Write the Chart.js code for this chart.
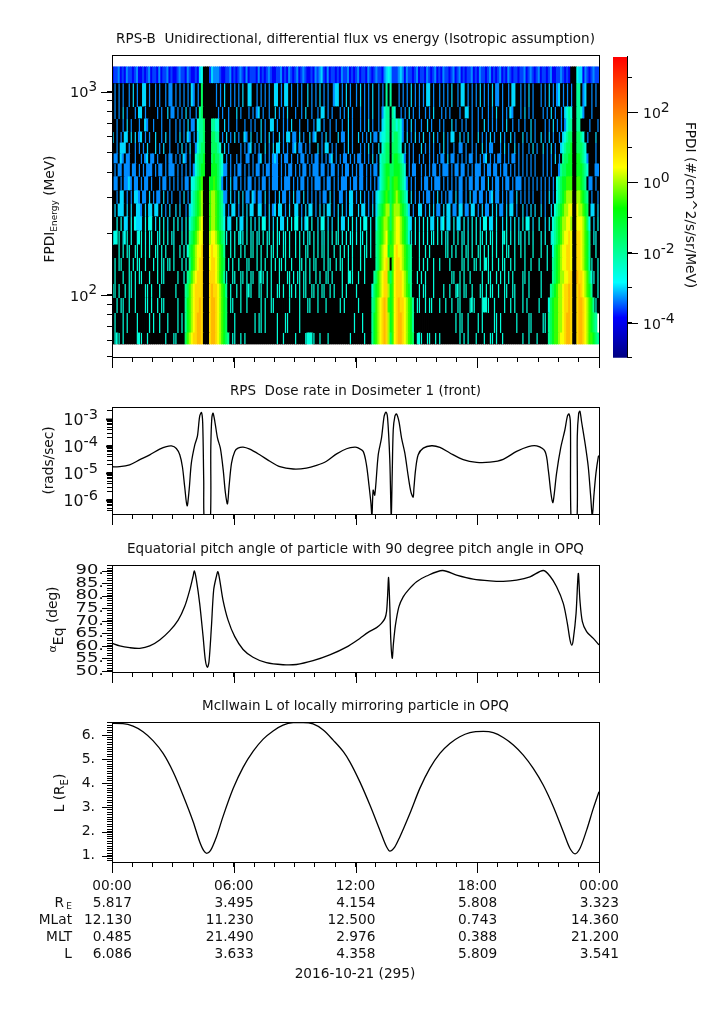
<!DOCTYPE html>
<html>
<head>
<meta charset="utf-8">
<title>RPS-B 2016-10-21</title>
<script src="https://cdn.jsdelivr.net/npm/chart.js@4/dist/chart.umd.min.js"></script>
<style>
body { margin: 0; background: #fff; }
canvas { position: absolute; left: 0; }
</style>
</head>
<body>
<canvas id="heat" width="725" height="336" style="top:33px"></canvas>
<canvas id="bar" width="125" height="323" style="top:45px;left:600px"></canvas>
<canvas id="dose" width="725" height="141" style="top:385px"></canvas>
<canvas id="pitch" width="725" height="141" style="top:543px"></canvas>
<canvas id="lshell" width="725" height="290" style="top:700px"></canvas>
<script>
// energy channel edges in MeV, bottom to top
var energyEdges = [57.4,65,81.5,96.7,113,131,152,176,206,242,280,325,381,441,494,559,633,734,841,1095,1323];
var energyTicks = [50,60,70,80,90,100,200,300,400,500,600,700,800,900,1000];

// one letter per 0.1 h per channel, '.' is no counts. Letters index fluxLevels (log10 flux)
var levelChars = 'abcdefghijklmno';
var fluxLevels = [-3.9,-3.6,-3.3,-3.0,-2.7,-2.55,-2.0,-1.5,-1.0,-0.5,0,0.4,0.9,1.3,1.5];

// stripes of each channel, row 0 = lowest energy
var channelRows = [
".fff.f.... ..fff..f.. ......f... ff........ .......... .........f f..f.f.... .......... .f..f..... f....fffff ..f...f... .......f.. ....f..... .......... .......... fff..ff..f .f........ .f.f.f...f ...f..ff.f ..f....... ..f..f...f .......... .......... ..........",
".f...f.f.. ..f.....f. f..f...f.. ..f.f..... .......... f......... f......... f.ff.f.... .f...ff... ..f....... .......... .........f ...f.....f ..f..f.... .......... .......... .........f .ff..f.. ..f.f..... ff.f...... .f.....ff. ....ff.... .......... ....f.....",
"..f.ff..f. .f....ff.f ..f.ff.... ..f....... .......... ...f..f.ff ...f..f... ...f.f..ff .......f.. ..f...ff.. .f...f.... ..f.f..... .f........ .......... .......... ff..f.ff.. .f..f..f.. ff....fff. ..ffff..f. ...f..f.f. ..f.f..... f......... .......... ..f...f.f.",
"ff.f..f.ff .f....ff.f ...f...... .f........ .......... ..f.ff..f. .f.f..fff. ..ff..f.f. .ff.f..ff. f.f.ff..ff .f.ff..f.f ...f.f.... f......... .......... .......... .f.ff...f. ...f..f..f ff.ff..f.. .ff.f.ff.. f..ff..ff. ..f..f.... .f........ .......... .f....f..f",
".f...f..ff .f.ff...f. ..f.ff.... ..f..f.... .......... ..f.f.f..f f..ff.f.ff ..fff.f.f. ..f...ff.f .ff.ff.f.. f.f..ff.f. ...f..fff. .f..f..... .......... .......... f.f.f...f. .......ff. .f.f..f... ..f..ff..f .f.f.f.f.. ..ff.f.... .f........ .......... ....f.ff.f",
".f.ff...f. f.ff..f... f.f.ff.ff. f...f.f... .......... ..f.f..f.f ..f...ff.. .f.f.f..f. f.ff.f..f. ..ff.f.f.f f...f.ff.. f.ff..f.f. ..f.f..... .......... .......... .f.f.f..f. .f....f... ..ff.f..ff .f.fff.f.. f.ff..f.f. ...f..f... f...f..... .......... ..f...f..f",
"...f.f.ff. .ff.f.f.f. .ff.f.f... f..f.f.... .......... ...f.f..f. f..f.f..ff .f.f..f.ff .f..ff.f.. f.f..ff..f .f.ff.f..f ..f.f.f.f. ..f.ff.f.. .......... .......... .f..f.f... ....ff.f.f ..f.ff.f.. ff.f.f.f.f ..f.ff..f. .f.f...f.. .f..f..... .......... .f..f...f.",
"eeff.eef.e ..eff.e.ef ..ee.f.e.e e...f.e.e. .......... .e.f.ee.e. f.eee.f.ef .ee.f.ef.e .fe.ee.f.. e.f.e.ee.f .e.ee.f.e. ff.e.e.ee. e.ee.f.e.. .......... .......e.e .e.e.e.ee. f.e.ee..e. f.ee.e.e.e .fe.e.ef.e ..eff.e.e. ee.e.f.e.. .e.e..e... .......... ..e.e..ee.",
"..e.e.dd.e .eddd.e.ee .d.e.e.d.. e.e.d.e... .......... .e.d.e.dd. .e.dd.e.e. d.e.ee.d.d .e.dd.e.e. ee.d.de.e. .d.ee.d.d. .e.dd.e.e. d.e.ee.e.. .......... .......d.e .d.e.e.dd. e.de.dd.e. dd.e.d.e.e .d.ee.dd.e ..d.e.d.e. d.e.ee.d.. e..d.e.... .......... ..dd.e.d.e",
".d.ddd.d.d ..ddc.d.dd .dd.d.c.d. .d.d..c.d. .......... ..d.dd.c.d d.c.d.d.dd ..dd.c.d.c d.dd.c.d.. dd.c.d.dd. c.d.d.dd.c .d.d.c.dd. .d.dd.c.d. d......... ......d.c. .dd.c.d.d. cc.d.dd.cc .dd.cc.dd. c.d.cc.d.d .cc.d.dd.c ..d.c.d.d. .d.c..d.c. d......... ..d.c.dd.d",
"..c.dd.c.c .ddc.cc.d. c.cc.d.c.c ...c.d.c.c .......... .c.d.cc.d. c.d.d.cc.d c.cc.d.c.. c.d.cc.c.d .cc.d.c.c. c.c.cc.d.c ..cc.c.dd. c.d.c.c.c. d.c....... .....c.d.c .c.c.cc.c. d.c.c.cc.d .cc.c.d.cc .cc.c.cd.c c.c.c.cc.d .c.c.c.c.. .c.c.d.c.. c......... .c.d..c..c",
".cc.c.ccdc .cc.c.cc.c ...c.cc.c. c.c.c.cc.c .......... .c.cc.c.d. cc.c.c.cc. c.c.cc.c.c cc.c.ccc.c .c.cc.c.c. ccc.c.cc.c .c.ccc.c.c c.cc.c.c.c .c.c...... .....c.c.c ..c.cc.c.c cc.c.c.c.c .cc.c.cc.c c.cc.d.c.c c.c.cc.c.c cc.c.c.c.c .c.c.c.c.. c.c....... .c...cc.c.",
".c.cc.ccc. cc.c.c.ccc .c.cc.c.cc c.c.c.c.c. c......... .c.c.cc.c. c.cc.c.c.c .cc.c.cc.c cc.c.c.cc. c.c.cc.c.c cc.cc.c.cc .c.c.cc.c. c.cc.c.c.c c.c....... ....c.c.cc ..c.c.c.cc .c.ccc.c.c c.cc.c.c.c cc.c.cc.cc .c.cc.c.c. c.c.c.c.c. ..c.c.c... c.c..c.... ..c.c...cc",
".cc.dc.cc. .c..c.cd.c c.c...c.cc .c.c.dc.c. .......... .c.dc.c.c. .c.c..cc.c ..cd.c.c.c dc.c.cc.c. .c.cc.c.c. cc.c.c.cd. c.c.cc.c.c .cc.c.c.d. c.c.c..... ....c.c.c. .c.c..c.c. c.cc.d.cc. c.c.c.cc.c .c.cd.c.c. cc.c.c.cc. c.c.c.c.c. ..c.c.c.d. c.c.c.c... .c..c...c.",
"..c.ddd.c. .c.c.c.d.. .d.c.d..c. ..c.d.c.d. .c........ .c.c.d.c.. ...c.c.cd. c.c..d.c.d .dd.c.c..c d.cc.c.c.. .d.c.dd.c. c...c.d.c. ..c.c.d.c. .d.c.c.... ....d.c.c. ..d.c.c.c. .c.d.c..c. .cc.c..c.c ..d.c.cc.. .c.d.c..d. c.c..c.d.c ..d.c.d.c. .d.c.c.... ...c....c.",
"d.c.c.dd.d .d.cd.c.c. .d..c.d.c. .c.d.c.dc. c.d....... ..d.c.d.c. d.c..dc.d. .c.d.c.d.c ..d.c.dd.c c.d.c..d.c d..c.d.c.. .d.cc.d.c. .d.c.c.d.c c.d....... ...c.d.c.d .c.d..c.d. c..d.c.dd. .d.c.d.c.. d.c.c.d.c. .d.c..d.c. ..d.c.d.c. .d.c.d.c.. c.d.c..... ....c...d.",
"..c..c.d.c ...c..dc.. c...c...c. .c.c.c.d.c c.d....... ..c..d.c.. .c...c..c. c..d.c..dd .c..c.c.d. ..c...c..c .dd.c..c.. c..c..d.c. ..c.c.d.c. .c.d.c.... ...c.c.d.c ..c..d.c.. .c.c...d.c ..c.c..c.. c..d.c.c.c ..c.d..c.. c..c..d.c. ...c.c.d.c .c.c...... .....c...c",
".c.c.d.c.. .c.dd.c... ..c.c..d.c c.c.c.d.c. .c.d.c.... ..c.c..c.. .d.c...c.c .cd.c..c.. d.c.c.d... c..c.d..c. .c.dd.c.c. ..c.c.d.c. ..c.c.c.d. .c.c.d.c.. ..c.c.d.c. .c..c.c.d. ..c.c.c... .c..dd.c.. c.c..c.c.d ..c.c.dc.. .c.d.c.c.. ..c.c.d.c. .c.d.c.c.c ..c...c...",
".c.c.c..c. d.c..dd.c. .c.c..c.cc .c.c.c.c.d c.c.d.c... .c.c.d..c. c.c.d..dd. .c.c.c.c.. dd.c.dd.c. .c.c..d.c. c.d.c.c..c dd.c.d.c.. c.d.c.c.d. .c.c...... .c.c.c.d.c .c.c.dd.c. .c.c.c.d.. c.dd.c.c.c .d.c.c.d.c c.c..c.dd. .c.c.d.c.. .c.c.d.c.c d.c.c.c... ..cd..c.c.",
"abbcabacbb abcaababca bbacabbcab aabcbbacba abacbbbacb abcbaabbca babcbacabb bacababcba abbcabacba bcabcbaaba cbcdbacabb abacbbcaba bcabbacbab cbbacbdcab bcabacbbab cabbacbabc abacbbabca bcababbcab acbbabcaba bcabacbabb abbcabcbab cabbabcaab bcbabacbbb abacbabcbb"
];

// radiation belt passes: first column and cells, per channel
var pass1Start = [36,36,36,36,37,38,37,38,38,39,39,39,41,41,42,43,42,43,44,43];
var pass1Cells = ["hjklmmnnm...mnnmlkjihg","gijklmnnm...mnnmlkjih","gijklmmnm...mnnmlkjih","ghjklmmmm...mnmmlkjig","ghjklmmm...mmmlkjig","gijklmm...lmmlkjih","fhijkllm...lmllkjig","ghijkll...kllkjihg","fghijkl...jkkjihg","fghijk...jkkjihg","fghijk...jkkjihg","efghij...iijihg","fghii...iiihgf","fghhi...hihhgf","fghh...hhhgf","ggh...hhgg","fggh...ggff","gh....","h...","de...bdcc"];
var pass2Start = [128,128,128,128,129,130,130,130,130,131,131,132,132,132,133,133,134,134,135,135];
var pass2Cells = ["gijklmnmkhjlmnnmlkjih","gijklmnmkijlmnnmlkjig","ghjklmnmjijlmnmmlkjig","fhijklmmkijlmmmlkjig","ghjklmmjhjlmmmlkjhg","ghjklmk.jlmmlkjihg","ghjkllijjlmllkjihg","ghijkljijkllkjihf","fhijkkjhjkllkjihf","ghijkkhjkkkjihg","fghijihijkjihgf","fghijhijjihgf","fghiihhiiihgf","fgghh.hiihgf","fghh.hhhgf","ffgg.ghhgf","fgg.ggfgf","fgg.gf..","g.g.","dedbbbcdc"];
var pass3Start = [215,215,215,216,217,217,217,217,217,218,219,219,221,222,222,223,224,224,227,226];
var pass3Cells = ["ghijjkllmnnm..mnnmlkjjihg","ghijjkklmnnm..mnnmlkjihg","fhijjkklmmnm..mnnmlkjig","ghijkklmmnm..mnmlkjig","ghijkkllmm..nmmlkjh","ghijkllmml..mmlkjig","fhijkllmml..mmlkjig","fghijkllml..mmlkjig","fghijkkllk..lllkjh","fghijkkll..lkkjih","fghijkkk..kkjihg","fghiijjj..jjihg","ghhiii..iiihgf","ghhii..iihgf","fghhi..hhhgf","fghh..hhgf","fgg..gg","fgf..ggf","..gg","...edd"];

// colour bar: log10 flux and its colour
var fluxStops = [-5,-3.85,-2.85,-0.74,0.43,3.57];
var fluxColours = [[0,0,128],[0,0,255],[0,255,255],[0,255,0],[255,255,0],[255,0,0]];
var barTicks = [1e-5,1e-4,1e-3,1e-2,1e-1,1,10,100,1000];
var barLabels = [-4,-2,0,2];

var doseHours = [0,.38,.87,1.37,1.86,2.35,2.68,2.93,3.17,3.34,3.47,3.58,3.70,3.80,3.91,4.08,4.21,4.32,4.41,4.47,4.52,4.57,4.83,4.87,4.92,4.98,5.08,5.20,5.34,5.48,5.59,5.69,5.77,5.89,6.05,6.21,6.46,6.79,7.28,7.78,8.27,8.93,9.58,10.08,10.57,11.07,11.56,11.97,12.13,12.38,12.54,12.67,12.76,12.81,12.87,12.95,13.12,13.28,13.41,13.5,13.58,13.69,13.76,13.81,13.86,13.94,14.02,14.14,14.27,14.43,14.6,14.73,14.84,14.88,14.96,15.09,15.34,15.75,16.16,16.65,17.31,17.97,18.63,19.28,19.94,20.52,20.93,21.34,21.5,21.63,21.72,21.78,21.91,22.11,22.32,22.44,22.52,22.59,22.64,22.9,22.93,23.0,23.06,23.14,23.31,23.47,23.59,23.67,23.75,23.85,23.97,24];
var doseValues = [1.7e-5,1.7e-5,2.0e-5,3.1e-5,4.7e-5,7.6e-5,9.5e-5,1.0e-4,8.1e-5,4.7e-5,1.7e-5,3.2e-6,6.0e-7,2.3e-6,2.3e-5,1.1e-4,2.3e-4,1.26e-3,1.74e-3,7.1e-4,5.5e-6,1e-7,1e-7,9.5e-5,1.1e-3,1.66e-3,7.1e-4,1.95e-4,8.3e-5,1.3e-5,1.8e-6,7.1e-7,3.2e-6,2.3e-5,6.3e-5,8.3e-5,9.1e-5,7.6e-5,4.7e-5,2.7e-5,1.7e-5,1.4e-5,1.5e-5,1.9e-5,2.7e-5,5.1e-5,7.9e-5,9.1e-5,8.5e-5,6.3e-5,2.0e-5,3.2e-6,7.6e-7,2.5e-7,2.3e-6,1.5e-6,4.7e-5,1.95e-4,1.26e-3,1.8e-3,1.1e-3,3.1e-5,2.5e-7,9.8e-6,4e-4,1.26e-3,1.55e-3,8.1e-4,1.95e-4,5.5e-5,7.4e-6,2e-6,1.26e-6,2.75e-6,1.3e-5,4.7e-5,8.3e-5,1.02e-4,8.9e-5,5.5e-5,3.1e-5,2.45e-5,2.5e-5,3.2e-5,6.3e-5,9.5e-5,1e-4,6.3e-5,1.3e-5,1.8e-6,7.9e-7,1.35e-6,9.8e-6,8.3e-5,4e-4,1.26e-3,1.55e-3,7.1e-4,1e-7,1e-7,2.3e-4,1.66e-3,1.95e-3,8.1e-4,1.3e-4,1.7e-5,1.35e-6,2.5e-7,1.5e-6,9.8e-6,4.1e-5,4.4e-5];
var doseTicks = [4e-7,5e-7,6e-7,7e-7,8e-7,9e-7,1e-6,2e-6,3e-6,4e-6,5e-6,6e-6,7e-6,8e-6,9e-6,1e-5,2e-5,3e-5,4e-5,5e-5,6e-5,7e-5,8e-5,9e-5,1e-4,2e-4,3e-4,4e-4,5e-4,6e-4,7e-4,8e-4,9e-4,1e-3,2e-3];

var pitchHours = [0,.38,.87,1.37,1.86,2.35,2.84,3.26,3.58,3.83,3.99,4.06,4.16,4.32,4.49,4.60,4.70,4.78,4.9,5.01,5.14,5.22,5.31,5.47,5.72,6.05,6.46,6.95,7.61,8.43,9.09,9.91,10.73,11.55,12.21,12.62,13.04,13.28,13.45,13.53,13.58,13.63,13.69,13.74,13.81,13.87,13.97,14.14,14.35,14.6,15.01,15.5,16.29,16.98,17.8,18.63,19.28,19.94,20.6,21.25,21.58,21.91,22.24,22.44,22.57,22.66,22.73,22.87,22.98,23.06,23.18,23.39,23.72,24];
var pitchValues = [61.05,60,59.3,59.05,60,62.4,66,70.3,75.7,82.3,87.6,89.9,86.3,77,63.7,54.4,51.5,53.7,67.7,82.3,87.6,89.6,86.3,78.3,70.3,63.7,58.6,55.5,53.3,52.5,52.6,54.1,56.4,59.5,63,65.4,67.3,69,71,73.7,79.6,87.3,75.7,62.4,55.1,61,68.4,75.7,79.6,82.3,85.6,87.9,90.1,88.3,86.7,86,85.8,86.3,87.6,90.1,87.9,83.6,77,69,62.4,60.3,62.4,73,88.9,78.3,69.7,65.7,63,60.4];
var pitchLabels = [50,55,60,65,70,75,80,85,90];
var pitchTicks = [50,51,52,53,54,55,56,57,58,59,60,61,62,63,64,65,66,67,68,69,70,71,72,73,74,75,76,77,78,79,80,81,82,83,84,85,86,87,88,89,90,91,92];

var lHours = [0,.54,1.04,1.53,2.02,2.52,3.01,3.50,4.0,4.32,4.52,4.67,4.85,5.15,5.47,5.97,6.46,6.96,7.45,7.94,8.43,8.93,9.42,9.91,10.41,10.9,11.4,11.72,12.21,12.71,13.2,13.53,13.69,13.94,14.19,14.68,15.17,15.66,16.16,16.65,17.14,17.64,18.3,18.79,19.28,19.78,20.27,20.76,21.25,21.75,22.24,22.57,22.82,23.06,23.39,23.72,24];
var lValues = [6.48,6.47,6.37,6.14,5.77,5.24,4.48,3.51,2.41,1.58,1.21,1.10,1.21,1.79,2.62,3.78,4.66,5.33,5.83,6.17,6.41,6.51,6.52,6.46,6.21,5.79,5.31,4.89,4.07,3.10,2.06,1.37,1.19,1.37,1.79,2.75,3.79,4.62,5.24,5.65,5.93,6.10,6.15,6.10,5.90,5.59,5.17,4.62,3.93,3.03,1.99,1.30,1.08,1.30,2.06,2.96,3.65];
var lLabels = [1,2,3,4,5,6];
var lTicks = [.8,.9,1,1.1,1.2,1.3,1.4,1.5,1.6,1.7,1.8,1.9,2,2.1,2.2,2.3,2.4,2.5,2.6,2.7,2.8,2.9,3,3.1,3.2,3.3,3.4,3.5,3.6,3.7,3.8,3.9,4,4.1,4.2,4.3,4.4,4.5,4.6,4.7,4.8,4.9,5,5.1,5.2,5.3,5.4,5.5,5.6,5.7,5.8,5.9,6,6.1,6.2,6.3,6.4,6.5];

var timeLabels = ['00:00','06:00','12:00','18:00','00:00'];
var rowNames = ['MLat','MLT','L'];
var reVals = ['5.817','3.495','4.154','5.808','3.323'];
var mlatVals = ['12.130','11.230','12.500','0.743','14.360'];
var mltVals = ['0.485','21.490','2.976','0.388','21.200'];
var lVals = ['6.086','3.633','4.358','5.809','3.541'];

var FONT = '"DejaVu Sans"';
var INK = '#111';
Chart.defaults.font.family = FONT;
Chart.defaults.color = INK;
Chart.defaults.animation = false;

function fluxColour(v) {
    var i = 0;
    while (i < fluxStops.length - 2 && v > fluxStops[i + 1]) i++;
    var t = (v - fluxStops[i]) / (fluxStops[i + 1] - fluxStops[i]);
    t = Math.max(0, Math.min(1, t));
    var a = fluxColours[i], b = fluxColours[i + 1];
    return 'rgb(' + [0, 1, 2].map(function(k) { return Math.round(a[k] + (b[k] - a[k]) * t); }).join(',') + ')';
}

function cellColour(c) {
    var k = levelChars.indexOf(c);
    return k < 0 ? '#000' : fluxColour(fluxLevels[k]);
}

function rotatedText(ctx, x, y, angle, segs) {
    ctx.save();
    ctx.translate(x, y);
    ctx.rotate(angle);
    ctx.textAlign = 'left';
    ctx.textBaseline = 'middle';
    ctx.fillStyle = INK;
    var total = 0;
    segs.forEach(function(s) { ctx.font = s.size + 'px ' + FONT; total += ctx.measureText(s.t).width; });
    var px = -total / 2;
    segs.forEach(function(s) {
        ctx.font = s.size + 'px ' + FONT;
        ctx.fillText(s.t, px, s.dy || 0);
        px += ctx.measureText(s.t).width;
    });
    ctx.restore();
}

function powerLabel(ctx, exp, x, y, size, supSize, leftAlign) {
    var e = String(exp);
    ctx.textBaseline = 'middle';
    ctx.textAlign = 'left';
    ctx.fillStyle = INK;
    ctx.font = size + 'px ' + FONT;
    var w = ctx.measureText('10').width;
    ctx.font = supSize + 'px ' + FONT;
    var sw = ctx.measureText(e).width;
    var x0 = leftAlign ? x : x - w - sw;
    ctx.font = size + 'px ' + FONT;
    ctx.fillText('10', x0, y + 2);
    ctx.font = supSize + 'px ' + FONT;
    ctx.fillText(e, x0 + w, y - 4);
}

// frame, long ticks, and the text the axes cannot do on their own
function furniture(cfg) {
    return {
        id: 'furniture',
        afterDraw: function(chart) {
            var ctx = chart.ctx, a = chart.chartArea;
            ctx.save();
            ctx.strokeStyle = '#000';
            ctx.lineWidth = 1;
            if (cfg.frame !== false) {
                ctx.strokeRect(Math.round(a.left) + .5, Math.round(a.top) + .5, Math.round(a.right - a.left), Math.round(a.bottom - a.top));
                [0, 6, 12, 18, 24].forEach(function(h) {
                    var x = Math.round(chart.scales.x.getPixelForValue(h)) + .5;
                    ctx.beginPath();
                    ctx.moveTo(x, a.bottom);
                    ctx.lineTo(x, a.bottom + 11);
                    ctx.stroke();
                });
                (cfg.majors || []).forEach(function(v) {
                    var y = Math.round(chart.scales.y.getPixelForValue(v)) + .5;
                    ctx.lineWidth = cfg.majorWidth || 1;
                    ctx.beginPath();
                    ctx.moveTo(a.left, y);
                    ctx.lineTo(a.left - cfg.majorLen, y);
                    ctx.stroke();
                });
            }
            if (cfg.after) cfg.after(ctx, a, chart);
            ctx.restore();
        }
    };
}

function hourAxis(height, labelled) {
    return {
        type: 'linear', min: 0, max: 24, offset: false,
        afterFit: function(s) { s.height = height; },
        border: { display: false },
        grid: { drawOnChartArea: false, tickLength: 5, tickColor: '#000', offset: false },
        ticks: {
            stepSize: 1, autoSkip: false, maxRotation: 0, padding: 11, maxTicksLimit: 100,
            font: { size: 13.7 },
            callback: function(v) { return labelled && v % 6 === 0 ? timeLabels[v / 6] : ''; }
        }
    };
}

function logAxis(min, max, list) {
    return {
        type: 'logarithmic', min: min, max: max,
        afterFit: function(s) { s.width = 112; },
        afterBuildTicks: function(s) { s.ticks = list.map(function(v) { return { value: v }; }); },
        border: { display: false },
        grid: { drawOnChartArea: false, tickLength: 5, tickColor: '#000' },
        ticks: { autoSkip: false, callback: function() { return ''; } }
    };
}

function linAxis(min, max, list, labels, size, pad) {
    return {
        type: 'linear', min: min, max: max,
        afterFit: function(s) { s.width = 112; },
        afterBuildTicks: function(s) { s.ticks = list.map(function(v) { return { value: v }; }); },
        border: { display: false },
        grid: { drawOnChartArea: false, tickLength: 5, tickColor: '#000' },
        ticks: {
            autoSkip: false, padding: pad,
            font: { size: size },
            callback: function(v) { return labels.indexOf(v) >= 0 ? v + '.' : ''; }
        }
    };
}

function titleOf(text) {
    return {
        display: true, text: text, fullSize: false, color: INK,
        font: { size: 13.5, weight: 'normal', lineHeight: 1 },
        padding: { top: 0, bottom: 8.5 }
    };
}

function lineSet(hours, values, smooth) {
    return {
        data: hours.map(function(h, i) { return { x: h, y: values[i] }; }),
        borderColor: '#000', borderWidth: 1.3, pointRadius: 0,
        cubicInterpolationMode: smooth ? 'monotone' : 'default', tension: .3
    };
}

function baseOptions(title, x, y) {
    return {
        responsive: false,
        devicePixelRatio: 1,
        layout: { autoPadding: false, padding: { left: 0, right: 126, top: 0, bottom: 0 } },
        plugins: { legend: { display: false }, tooltip: { enabled: false }, title: titleOf(title) },
        scales: { x: x, y: y }
    };
}

// ---- spectrogram ----
// short stripes go on a thin front layer, long runs and belts on the full width back layer
var heatSets = [];
channelRows.forEach(function(row, r) {
    var noise = row.replace(/ /g, '').split('').slice(0, 240);
    var cells = noise.slice();
    var belt = {};
    [[pass1Start, pass1Cells], [pass2Start, pass2Cells], [pass3Start, pass3Cells]].forEach(function(p) {
        p[1][r].split('').forEach(function(c, i) { cells[p[0][r] + i] = c; belt[p[0][r] + i] = true; });
    });
    var back = [], backCol = [], front = [], frontCol = [];
    var span = [energyEdges[r], energyEdges[r + 1]];
    var filled = function(i) { return cells[i] && cells[i] !== '.'; };
    cells.forEach(function(c, i) {
        var run = filled(i) ? 1 + (filled(i - 1) ? 1 : 0) + (filled(i + 1) ? 1 : 0) : 0;
        var thin = run > 0 && !belt[i] && r < 19 && run <= (r < 8 ? 2 : 1);
        back.push({ x: (i + .5) / 10, y: span });
        backCol.push(cellColour(thin ? '.' : c));
        if (thin) {
            front.push({ x: (i + .5) / 10, y: span });
            frontCol.push(cellColour(c));
        }
    });
    heatSets.push({ data: back, backgroundColor: backCol, borderWidth: 0, barPercentage: 1, categoryPercentage: 1, inflateAmount: .4, grouped: false, order: 2 });
    heatSets.push({ data: front, backgroundColor: frontCol, borderWidth: 0, barPercentage: .6, categoryPercentage: 1, inflateAmount: 0, grouped: false, order: 1 });
});

new Chart(document.getElementById('heat'), {
    type: 'bar',
    data: { datasets: heatSets },
    options: baseOptions('RPS-B  Unidirectional, differential flux vs energy (Isotropic assumption)',
        hourAxis(12, false), logAxis(49.5, 1514, energyTicks)),
    plugins: [furniture({
        majors: [100, 1000], majorLen: 11,
        after: function(ctx, a, chart) {
            powerLabel(ctx, 3, 97, chart.scales.y.getPixelForValue(1000), 14.5, 13.5);
            powerLabel(ctx, 2, 97, chart.scales.y.getPixelForValue(100), 14.5, 13.5);
            rotatedText(ctx, 50, a.top + 154, -Math.PI / 2, [
                { t: 'FPDI', size: 13.7 }, { t: 'Energy', size: 9, dy: 5 }, { t: ' (MeV)', size: 13.7 }
            ]);
        }
    })]
});

// ---- colour bar ----
new Chart(document.getElementById('bar'), {
    type: 'bar',
    data: {
        labels: [''],
        datasets: [{
            data: [[1e-5, Math.pow(10, 3.57)]],
            borderWidth: 0,
            categoryPercentage: 1,
            barPercentage: 1,
            backgroundColor: function(c) {
                var chart = c.chart;
                if (!chart.chartArea) return '#000';
                var s = chart.scales.y;
                var g = chart.ctx.createLinearGradient(0, s.getPixelForValue(1e-5), 0, s.getPixelForValue(Math.pow(10, 3.57)));
                fluxStops.forEach(function(v, i) { g.addColorStop((v + 5) / 8.57, fluxColour(v)); });
                return g;
            }
        }]
    },
    options: {
        responsive: false,
        devicePixelRatio: 1,
        layout: { autoPadding: false, padding: { left: 13, right: 0, top: 12, bottom: 0 } },
        plugins: { legend: { display: false }, tooltip: { enabled: false } },
        scales: {
            x: { display: false },
            y: {
                type: 'logarithmic', position: 'right', min: 1e-5, max: Math.pow(10, 3.57),
                afterFit: function(s) { s.width = 98; },
                afterBuildTicks: function(s) { s.ticks = barTicks.map(function(v) { return { value: v }; }); },
                border: { display: false },
                grid: { drawOnChartArea: false, tickLength: 5, tickColor: '#000' },
                ticks: { autoSkip: false, callback: function() { return ''; } }
            }
        }
    },
    plugins: [furniture({
        frame: false,
        after: function(ctx, a, chart) {
            var s = chart.scales.y;
            ctx.beginPath();
            ctx.moveTo(a.right + .5, a.top - 1);
            ctx.lineTo(a.right + .5, a.bottom);
            ctx.stroke();
            barLabels.forEach(function(e) {
                var y = Math.round(s.getPixelForValue(Math.pow(10, e))) + .5;
                ctx.beginPath();
                ctx.moveTo(a.right, y);
                ctx.lineTo(a.right + 11, y);
                ctx.stroke();
                powerLabel(ctx, e, 43, y, 14, 14, true);
            });
            rotatedText(ctx, 90, 160, Math.PI / 2, [{ t: 'FPDI (#/cm^2/s/sr/MeV)', size: 13.7 }]);
        }
    })]
});

// ---- dose rate ----
new Chart(document.getElementById('dose'), {
    type: 'line',
    data: { datasets: [lineSet(doseHours, doseValues, false)] },
    options: baseOptions('RPS  Dose rate in Dosimeter 1 (front)', hourAxis(12, false), logAxis(3.0e-7, 2.79e-3, doseTicks)),
    plugins: [furniture({
        majors: [1e-6, 1e-5, 1e-4, 1e-3], majorLen: 6, majorWidth: 2,
        after: function(ctx, a, chart) {
            [-3, -4, -5, -6].forEach(function(e) {
                powerLabel(ctx, e, 98, chart.scales.y.getPixelForValue(Math.pow(10, e)), 15.7, 14.5);
            });
            rotatedText(ctx, 49, (a.top + a.bottom) / 2 + 0, -Math.PI / 2, [{ t: '(rads/sec)', size: 13.7 }]);
        }
    })]
});

// ---- pitch angle ----
new Chart(document.getElementById('pitch'), {
    type: 'line',
    data: { datasets: [lineSet(pitchHours, pitchValues, false)] },
    options: baseOptions('Equatorial pitch angle of particle with 90 degree pitch angle in OPQ',
        hourAxis(12, false), linAxis(49.6, 92.3, pitchTicks, [], 14, 3)),
    plugins: [furniture({
        majors: pitchLabels, majorLen: 10,
        after: function(ctx, a, chart) {
            // these labels are wide in the original, so stretch them sideways
            ctx.save();
            ctx.fillStyle = INK;
            ctx.font = '14px ' + FONT;
            ctx.textAlign = 'right';
            ctx.textBaseline = 'middle';
            pitchLabels.forEach(function(v) {
                var y = chart.scales.y.getPixelForValue(v);
                ctx.setTransform(1.28, 0, 0, 1, 104, 0);
                ctx.fillText(v + '.', 0, y);
            });
            ctx.restore();
            rotatedText(ctx, 53, (a.top + a.bottom) / 2 + 1, -Math.PI / 2, [
                { t: '\u03b1', size: 11 }, { t: 'Eq', size: 14, dy: 6 }, { t: ' (deg)', size: 13.7 }
            ]);
        }
    })]
});

// ---- L shell + ephemeris ----
new Chart(document.getElementById('lshell'), {
    type: 'line',
    data: { datasets: [lineSet(lHours, lValues, true)] },
    options: baseOptions('McIlwain L of locally mirroring particle in OPQ',
        hourAxis(128, true), linAxis(0.74, 6.54, lTicks, lLabels, 14, 12)),
    plugins: [furniture({
        majors: lLabels, majorLen: 10,
        after: function(ctx, a, chart) {
            rotatedText(ctx, 60, (a.top + a.bottom) / 2 + 1, -Math.PI / 2, [
                { t: 'L (R', size: 13.7 }, { t: 'E', size: 10, dy: 5 }, { t: ')', size: 13.7 }
            ]);
            ctx.fillStyle = INK;
            ctx.font = '13.7px ' + FONT;
            ctx.textBaseline = 'middle';
            [reVals, mlatVals, mltVals, lVals].forEach(function(vals, row) {
                ctx.textAlign = 'right';
                vals.forEach(function(t, i) {
                    ctx.fillText(t, chart.scales.x.getPixelForValue(i * 6) + 20, a.bottom + 41 + row * 17);
                });
            });
            rowNames.forEach(function(n, i) { ctx.fillText(n, 72, a.bottom + 58 + i * 17); });
            ctx.fillText('R', 64, a.bottom + 41);
            ctx.font = '9px ' + FONT;
            ctx.fillText('E', 72, a.bottom + 45);
            ctx.font = '13.7px ' + FONT;
            ctx.textAlign = 'center';
            ctx.fillText('2016-10-21 (295)', 355, a.bottom + 112);
        }
    })]
});
</script>
</body>
</html>
